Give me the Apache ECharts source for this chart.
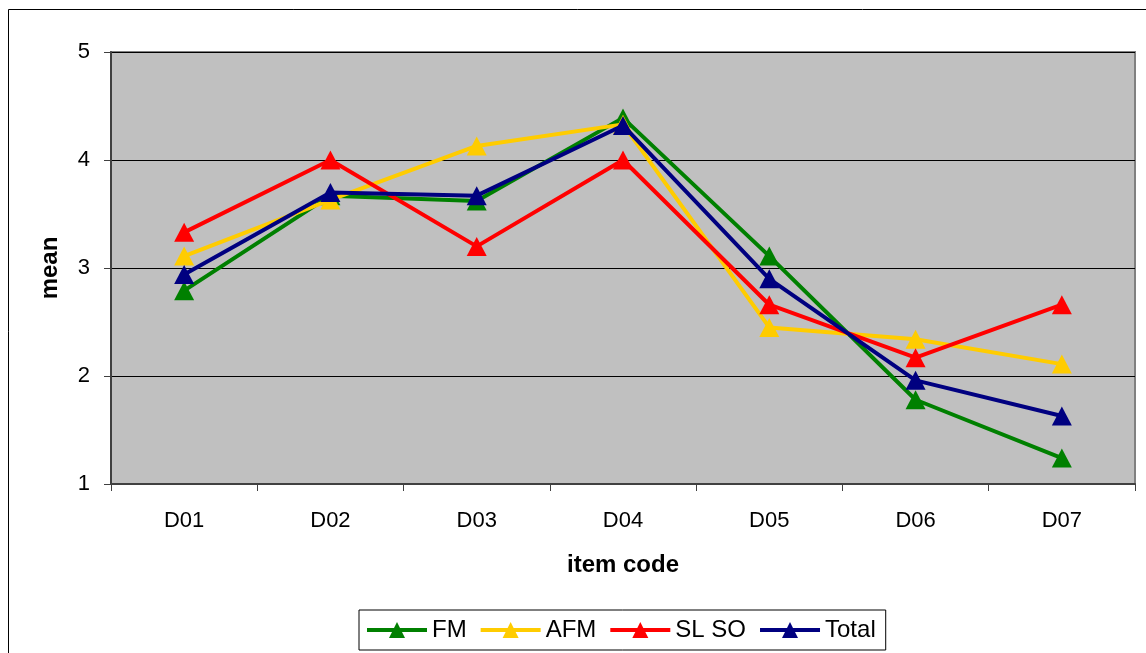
<!DOCTYPE html>
<html><head><meta charset="utf-8">
<script src="https://cdn.jsdelivr.net/npm/echarts@6/dist/echarts.min.js"></script>
<style>html,body{margin:0;padding:0;background:#fff}#c{width:1146px;height:653px}</style>
</head><body><div id="c"></div>
<script>
const categories = ['D01','D02','D03','D04','D05','D06','D07'];
const FM    = [2.79, 3.67, 3.62, 4.39, 3.11, 1.78, 1.24];
const AFM   = [3.11, 3.63, 4.13, 4.33, 2.45, 2.34, 2.11];
const SLSO  = [3.33, 4.00, 3.20, 4.00, 2.66, 2.17, 2.66];
const Total = [2.94, 3.70, 3.67, 4.32, 2.90, 1.96, 1.63];
const seriesNames = ['FM','AFM','SL SO','Total'];
const seriesColors = ['#008000','#FFCC00','#FF0000','#000080'];
const seriesData = [FM, AFM, SLSO, Total];

const chart = echarts.init(document.getElementById('c'), null, {renderer:'canvas'});
const font = 'Liberation Sans, Arial, sans-serif';
chart.setOption({
  backgroundColor:'#fff',
  animation:false,
  graphic:[{type:'rect', shape:{x:8.5,y:9.5,width:1160,height:700}, style:{fill:'none', stroke:'#000', lineWidth:1}, z:-1}],
  grid:{left:111, top:52, right:11, bottom:169, show:true, backgroundColor:'#C0C0C0', borderColor:'#808080', borderWidth:2},
  xAxis:{type:'category', data:categories, boundaryGap:true,
    name:'item code', nameLocation:'middle', nameGap:69,
    nameTextStyle:{fontFamily:font, fontSize:24, fontWeight:'bold', color:'#000'},
    axisLine:{lineStyle:{color:'#404040', width:2}},
    axisTick:{show:true, length:7, alignWithLabel:false, lineStyle:{color:'#404040'}},
    axisLabel:{fontFamily:font, fontSize:22, color:'#000', margin:26}},
  yAxis:{type:'value', min:1, max:5, interval:1,
    name:'mean', nameLocation:'middle', nameGap:49, nameRotate:90,
    nameTextStyle:{fontFamily:font, fontSize:24, fontWeight:'bold', color:'#000'},
    axisLine:{show:true, lineStyle:{color:'#404040', width:2}},
    axisTick:{show:true, length:7, lineStyle:{color:'#404040'}},
    axisLabel:{fontFamily:font, fontSize:22, color:'#000', margin:21},
    splitLine:{show:true, lineStyle:{color:'#000', width:1}}},
  legend:{bottom:3, left:359, itemWidth:60, itemHeight:20, itemGap:12,
    padding:[8,10,8,6],
    borderColor:'#000', borderWidth:1,
    lineStyle:{width:4},
    textStyle:{fontFamily:font, fontSize:24, color:'#000'},
    data:seriesNames},
  series: seriesNames.map((n,i)=>({
    name:n, type:'line', data:seriesData[i],
    symbol:'triangle', symbolSize:[20,19], showAllSymbol:true,
    lineStyle:{color:seriesColors[i], width:4},
    itemStyle:{color:seriesColors[i]},
    z:2+i
  }))
});
</script></body></html>
